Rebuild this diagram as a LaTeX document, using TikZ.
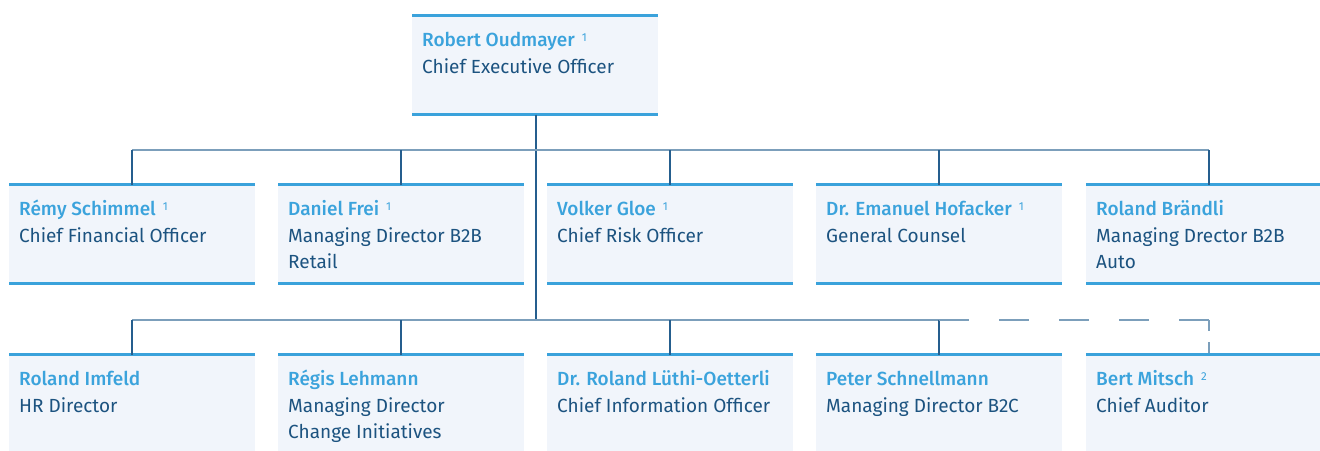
\documentclass[tikz,border=0pt]{standalone}
\usepackage{fontspec}
\setmainfont{Fira Sans}[BoldFont={* Medium}]
\definecolor{namecol}{HTML}{3BA3DC}
\definecolor{rolecol}{HTML}{1C5380}
\definecolor{cardfill}{HTML}{F1F5FB}
\definecolor{rulecol}{HTML}{3AA2DB}
\definecolor{linkcol}{HTML}{255E8E}
\definecolor{buscol}{HTML}{7C9FBB}
\newcommand\nm[1]{{\bfseries\color{namecol}\rule{0pt}{16pt}#1}}
\newcommand\fnmark[1]{\hspace{7pt}{\color{namecol}\raisebox{5.5pt}{\fontsize{11.5}{11.5}\selectfont #1}}}
\begin{document}
\begin{tikzpicture}[x=1pt,y=-1pt,
  card/.style={fill=cardfill, draw=none, minimum width=246pt, minimum height=99pt,
    inner sep=0pt, outer sep=0pt, anchor=north west},
  opencard/.style={card, minimum height=110pt},
  rule/.style={draw=rulecol, line width=3pt},
  txt/.style={anchor=north west, inner sep=0pt, align=left, text=rolecol,
    font={\fontsize{19}{26.5}\selectfont}},
  link/.style={draw=linkcol, line width=1.3pt},
  bus/.style={draw=buscol, line width=1.8pt},
  dashbus/.style={draw=buscol, line width=1.8pt, dash pattern=on 30pt off 30pt},
  dashlink/.style={draw=buscol, line width=1.8pt, dash pattern=on 11pt off 11pt}]
\useasboundingbox (0,0) rectangle (1320,450);

% executive
\node[card] (ceo) at (412,15.5) {};
\node[txt] (tceo) at ([shift={(10,15)}]ceo.north west)
  {\nm{Robert Oudmayer}\fnmark{1}\\Chief Executive Officer};

% first row
\node[card] (a1) at (9,184.5) {};
\node[card] (a2) at (278,184.5) {};
\node[card] (a3) at (547,184.5) {};
\node[card] (a4) at (816,184.5) {};
\node[card] (a5) at (1086,184.5) {};
\node[txt] (ta1) at ([shift={(10,15)}]a1.north west)
  {\nm{Rémy Schimmel}\fnmark{1}\\Chief Financial Officer};
\node[txt] (ta2) at ([shift={(10,15)}]a2.north west)
  {\nm{Daniel Frei}\fnmark{1}\\Managing Director B2B\\Retail};
\node[txt] (ta3) at ([shift={(10,15)}]a3.north west)
  {\nm{Volker Gloe}\fnmark{1}\\Chief Risk Officer};
\node[txt] (ta4) at ([shift={(10,15)}]a4.north west)
  {\nm{Dr. Emanuel Hofacker}\fnmark{1}\\General Counsel};
\node[txt] (ta5) at ([shift={(10,15)}]a5.north west)
  {\nm{Roland Brändli}\\Managing Drector B2B\\Auto};

% second row
\node[opencard] (b1) at (9,354.5) {};
\node[opencard] (b2) at (278,354.5) {};
\node[opencard] (b3) at (547,354.5) {};
\node[opencard] (b4) at (816,354.5) {};
\node[opencard] (b5) at (1086,354.5) {};
\node[txt] (tb1) at ([shift={(10,15)}]b1.north west)
  {\nm{Roland Imfeld}\\HR Director};
\node[txt] (tb2) at ([shift={(10,15)}]b2.north west)
  {\nm{Régis Lehmann}\\Managing Director\\Change Initiatives};
\node[txt] (tb3) at ([shift={(10,15)}]b3.north west)
  {\nm{Dr. Roland Lüthi-Oetterli}\\Chief Information Officer};
\node[txt] (tb4) at ([shift={(10,15)}]b4.north west)
  {\nm{Peter Schnellmann}\\Managing Director B2C};
\node[txt] (tb5) at ([shift={(10,15)}]b5.north west)
  {\nm{Bert Mitsch}\fnmark{2}\\Chief Auditor};

% blue rules on top and bottom of the cards
\foreach \c in {ceo,a1,a2,a3,a4,a5} {
  \draw[rule] (\c.north west) -- (\c.north east);
  \draw[rule] (\c.south west) -- (\c.south east);
}
\foreach \c in {b1,b2,b3,b4,b5}
  \draw[rule] (\c.north west) -- (\c.north east);

% connectors
\coordinate (spine) at (536,0);
\coordinate (busA) at (0,150);
\coordinate (busB) at (0,320);
\draw[link] (ceo.south -| spine) -- (busB -| spine);
\draw[bus] (busA -| a1.north) -- (busA -| a5.north);
\foreach \c in {a1,a2,a3,a4,a5}
  \draw[link] (busA -| \c.north) -- (\c.north);
\draw[bus] (busB -| b1.north) -- (busB -| b4.north);
\foreach \c in {b1,b2,b3,b4}
  \draw[link] (busB -| \c.north) -- (\c.north);
\draw[dashbus] (busB -| b4.north) -- (busB -| b5.north);
\draw[dashlink] (busB -| b5.north) -- (b5.north);
\end{tikzpicture}
\end{document}
